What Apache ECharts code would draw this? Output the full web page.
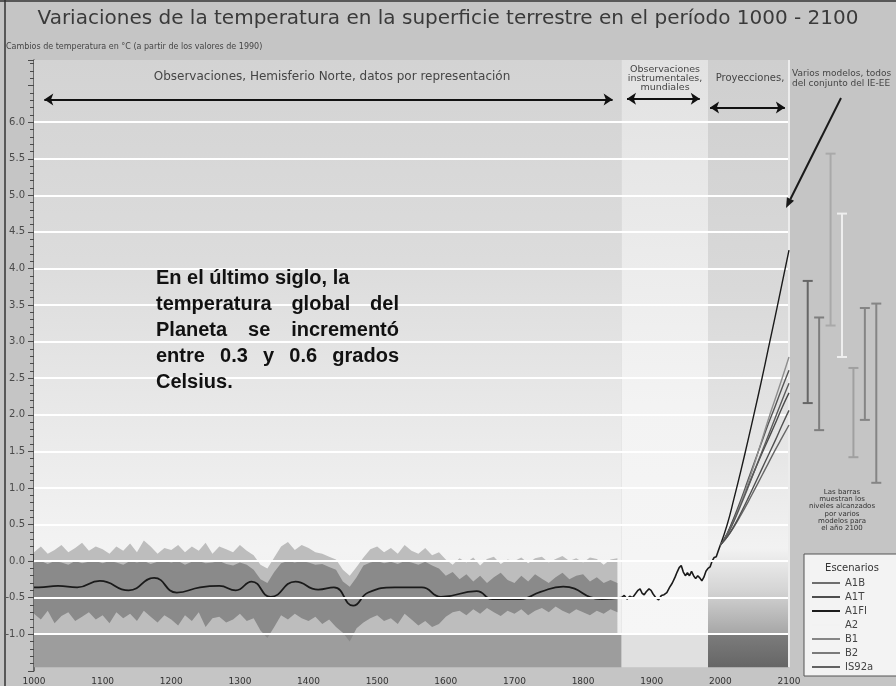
<!DOCTYPE html>
<html>
<head>
<meta charset="utf-8">
<script src="https://cdn.jsdelivr.net/npm/echarts@6/dist/echarts.min.js"></script>
<style>
html,body{margin:0;padding:0;background:#c5c5c5;}
#chart{width:896px;height:686px;}
</style>
</head>
<body>
<div id="chart"></div>
<script>
// ---------- datos ----------
const yearTicks = [1000,1100,1200,1300,1400,1500,1600,1700,1800,1900,2000,2100];
const levelTicks = [-1.0,-0.5,0.0,0.5,1.0,1.5,2.0,2.5,3.0,3.5,4.0,4.5,5.0,5.5,6.0];

// Reconstrucción hemisferio norte (décadas 1000-1850)
const proxyDecades = [
  1000,1010,1020,1030,1040,1050,1060,1070,1080,1090,
  1100,1110,1120,1130,1140,1150,1160,1170,1180,1190,
  1200,1210,1220,1230,1240,1250,1260,1270,1280,1290,
  1300,1310,1320,1330,1340,1350,1360,1370,1380,1390,
  1400,1410,1420,1430,1440,1450,1460,1470,1480,1490,
  1500,1510,1520,1530,1540,1550,1560,1570,1580,1590,
  1600,1610,1620,1630,1640,1650,1660,1670,1680,1690,
  1700,1710,1720,1730,1740,1750,1760,1770,1780,1790,
  1800,1810,1820,1830,1840,1850];
const outerTop = [
  0.12,0.20,0.10,0.15,0.22,0.12,0.18,0.25,0.14,0.20,
  0.16,0.10,0.20,0.14,0.24,0.12,0.28,0.20,0.10,0.18,
  0.15,0.22,0.12,0.20,0.14,0.25,0.10,0.20,0.16,0.12,
  0.22,0.14,0.08,-0.05,-0.10,0.05,0.20,0.26,0.15,0.22,
  0.18,0.12,0.10,0.06,0.02,-0.12,-0.20,-0.08,0.05,0.16,
  0.20,0.12,0.18,0.10,0.22,0.14,0.10,0.18,0.08,0.12,
  0.02,-0.05,0.04,-0.02,0.05,-0.06,0.03,0.06,-0.04,0.02,
  0.00,0.05,-0.03,0.04,0.06,-0.02,0.03,0.07,0.00,0.04,
  -0.02,0.05,0.03,-0.05,0.02,0.04];
const outerFloor = -1.0;
const innerTop = [
  -0.02,0.00,-0.04,0.00,-0.02,-0.05,0.00,-0.03,-0.01,0.00,
  -0.03,0.00,-0.02,-0.05,0.00,-0.02,0.00,-0.04,-0.01,0.00,
  -0.02,0.00,-0.05,-0.01,0.00,-0.03,-0.02,0.00,-0.04,-0.06,
  -0.02,-0.05,-0.12,-0.25,-0.30,-0.15,-0.03,0.00,-0.02,0.00,
  -0.02,-0.05,-0.04,-0.08,-0.12,-0.28,-0.35,-0.22,-0.06,-0.02,
  0.00,-0.03,-0.01,-0.04,0.00,-0.02,-0.05,-0.01,-0.06,-0.10,
  -0.20,-0.15,-0.25,-0.18,-0.28,-0.20,-0.30,-0.22,-0.16,-0.26,
  -0.30,-0.20,-0.28,-0.18,-0.24,-0.30,-0.22,-0.16,-0.25,-0.20,
  -0.18,-0.28,-0.22,-0.30,-0.26,-0.30];
const innerBottom = [
  -0.72,-0.80,-0.68,-0.85,-0.75,-0.70,-0.82,-0.76,-0.70,-0.80,
  -0.74,-0.85,-0.70,-0.78,-0.72,-0.82,-0.68,-0.76,-0.84,-0.74,
  -0.80,-0.88,-0.74,-0.82,-0.70,-0.90,-0.78,-0.76,-0.84,-0.80,
  -0.72,-0.82,-0.78,-0.95,-1.05,-0.90,-0.74,-0.80,-0.72,-0.78,
  -0.82,-0.76,-0.86,-0.80,-0.90,-0.98,-1.10,-0.92,-0.84,-0.78,
  -0.74,-0.82,-0.78,-0.86,-0.72,-0.80,-0.88,-0.82,-0.90,-0.86,
  -0.76,-0.70,-0.68,-0.74,-0.66,-0.72,-0.64,-0.70,-0.75,-0.68,
  -0.72,-0.66,-0.74,-0.68,-0.64,-0.70,-0.62,-0.68,-0.72,-0.66,
  -0.70,-0.74,-0.68,-0.72,-0.66,-0.70];

// Media suavizada de la reconstrucción
const proxyMeanYears = [1000,1007,1035,1063,1096,1138,1175,1208,1242,1270,1294,1317,1345,1381,1414,1437,1465,1487,1526,1565,1593,1645,1668,1709,1738,1771,1827,1856];
const proxyMeanVals  = [-0.36,-0.36,-0.34,-0.36,-0.27,-0.40,-0.23,-0.43,-0.36,-0.34,-0.40,-0.28,-0.49,-0.28,-0.39,-0.36,-0.61,-0.43,-0.36,-0.36,-0.49,-0.41,-0.52,-0.52,-0.42,-0.35,-0.52,-0.50];

// Observaciones instrumentales mundiales
const obsYears = [1856,1860,1864,1868,1872,1876,1880,1883,1886,1889,1892,1896,1899,1902,1906,1910,1914,1918,1922,1926,1930,1934,1937,1940,1943,1946,1949,1952,1955,1958,1961,1964,1967,1970,1973,1976,1979,1982,1985,1988,1991,1994,1997,2000];
const obsVals  = [-0.50,-0.47,-0.52,-0.48,-0.50,-0.45,-0.40,-0.38,-0.44,-0.46,-0.42,-0.38,-0.40,-0.45,-0.50,-0.53,-0.47,-0.46,-0.43,-0.36,-0.30,-0.22,-0.15,-0.09,-0.06,-0.15,-0.20,-0.16,-0.20,-0.14,-0.20,-0.24,-0.20,-0.23,-0.27,-0.22,-0.14,-0.10,-0.08,0.00,0.05,0.06,0.14,0.22];

// Proyecciones por escenario
const projYears = [2000,2010,2020,2030,2040,2050,2060,2070,2080,2090,2100];
const projA1B  = [0.22,0.38,0.60,0.84,1.10,1.36,1.62,1.88,2.12,2.37,2.61];
const projA1T  = [0.22,0.37,0.58,0.80,1.02,1.24,1.46,1.67,1.88,2.10,2.30];
const projA1FI = [0.22,0.50,0.86,1.24,1.64,2.05,2.47,2.91,3.35,3.80,4.25];
const projA2   = [0.22,0.36,0.56,0.80,1.06,1.34,1.64,1.94,2.22,2.50,2.79];
const projB1   = [0.22,0.33,0.47,0.63,0.80,0.98,1.16,1.34,1.52,1.69,1.86];
const projB2   = [0.22,0.36,0.55,0.77,1.00,1.24,1.48,1.72,1.96,2.20,2.43];
const projIS92a= [0.22,0.33,0.48,0.66,0.85,1.05,1.25,1.45,1.65,1.86,2.06];

const scenarioNames = ['A1B','A1T','A1FI','A2','B1','B2','IS92a'];
const scenarioSeries = [projA1B,projA1T,projA1FI,projA2,projB1,projB2,projIS92a];

// Rango alcanzado en 2100 por varios modelos
const rangeLow  = [2.16,1.79,3.22,2.79,1.42,1.93,1.07];
const rangeHigh = [3.83,3.33,5.57,4.75,2.64,3.46,3.52];

// Periodos del eje temporal
const periodProxy = [1000,1856];
const periodInstr = [1856,1982];
const periodProj  = [1982,2100];
const plotBottom = -1.45, plotTop = 6.85;

// Encabezados con flechas [inicio, fin, nivel]
const headerSpans = [[1015,1843,6.31],[1864,1970,6.32],[1985,2094,6.20]];

// ---------- estilos ----------
const legendColors = ['#6e6e6e','#4e4e4e','#1c1c1c','#f2f2f2','#858585','#7a7a7a','#626262'];
const lineColors   = ['#555555','#4a4a4a','#1a1a1a','#8e8e8e','#666666','#5a5a5a','#505050'];
const barColors    = ['#666666','#7e7e7e','#a9a9a9','#eeeeee','#a0a0a0','#858585','#858585'];
const FONT = 'DejaVu Sans';

const chart = echarts.init(document.getElementById('chart'));

function grad(stops){
  return {type:'linear',x:0,y:0,x2:0,y2:1,colorStops:stops.map(s=>({offset:s[0],color:s[1]}))};
}

function bandSeries(name, top, bottomAt, color, z){
  return {
    type:'custom', name, z, silent:true, xAxisIndex:0, yAxisIndex:0,
    data: proxyDecades.map((y,i)=>[y, bottomAt(i), top[i]]),
    encode:{x:0, y:[1,2]},
    renderItem(params, api){
      if (params.dataIndex !== 0) return null;
      const pts = [];
      for (let i=0;i<proxyDecades.length;i++) pts.push(api.coord([proxyDecades[i], top[i]]));
      for (let i=proxyDecades.length-1;i>=0;i--) pts.push(api.coord([proxyDecades[i], bottomAt(i)]));
      return {type:'polygon', shape:{points:pts, smooth:0}, style:{fill:color}};
    }
  };
}

const series = [];

// Fondos de los tres periodos
series.push({
  type:'line', name:'fondo', data:[], z:1, silent:true,
  markArea:{
    silent:true,
    data:[
      [{xAxis:periodProxy[0], yAxis:outerFloor, itemStyle:{color:grad([[0,'#d3d3d3'],[0.35,'#dcdcdc'],[0.6,'#e8e8e8'],[0.85,'#f3f3f3'],[1,'#f0f0f0']])}},{xAxis:periodProxy[1], yAxis:plotTop}],
      [{xAxis:periodProxy[0], yAxis:plotBottom, itemStyle:{color:'#9d9d9d'}},{xAxis:periodProxy[1], yAxis:outerFloor}],
      [{xAxis:periodInstr[0], yAxis:outerFloor, itemStyle:{color:grad([[0,'#e2e2e2'],[0.3,'#eaeaea'],[0.6,'#f3f3f3'],[1,'#f6f6f6']])}},{xAxis:periodInstr[1], yAxis:plotTop}],
      [{xAxis:periodInstr[0], yAxis:plotBottom, itemStyle:{color:'#e0e0e0'}},{xAxis:periodInstr[1], yAxis:outerFloor}],
      [{xAxis:periodProj[0], yAxis:outerFloor, itemStyle:{color:grad([[0,'#cfcfcf'],[0.4,'#d9d9d9'],[0.7,'#e7e7e7'],[0.85,'#f2f2f2'],[0.92,'#d6d6d6'],[1,'#a6a6a6']])}},{xAxis:periodProj[1], yAxis:plotTop}],
      [{xAxis:periodProj[0], yAxis:plotBottom, itemStyle:{color:grad([[0,'#7c7c7c'],[1,'#666666']])}},{xAxis:periodProj[1], yAxis:outerFloor}]
    ]
  }
});

// Bandas de incertidumbre
series.push(bandSeries('banda externa', outerTop, ()=>outerFloor, '#bdbdbd', 2));
series.push(bandSeries('banda interna', innerTop, i=>innerBottom[i], '#8a8a8a', 2));

// Líneas de nivel blancas
series.push({
  type:'line', name:'niveles', data:[], z:3, silent:true,
  markLine:{
    silent:true, symbol:'none', label:{show:false},
    lineStyle:{color:'#ffffff', width:2, type:'solid'},
    data: levelTicks.map(v=>({yAxis:v}))
  }
});
series.push({
  type:'line', name:'borde', data:[], z:3, silent:true,
  markLine:{
    silent:true, symbol:'none', label:{show:false},
    lineStyle:{color:'#ececec', width:2, type:'solid'},
    data:[[{coord:[periodProj[1], plotBottom]},{coord:[periodProj[1], plotTop]}]]
  }
});

// Media de la reconstrucción
series.push({
  type:'line', name:'media', z:4, silent:true, smooth:0.5, symbol:'none',
  data: proxyMeanYears.map((y,i)=>[y, proxyMeanVals[i]]),
  lineStyle:{color:'#1a1a1a', width:1.8}
});
// Observaciones instrumentales
series.push({
  type:'line', name:'observaciones', z:4, silent:true, symbol:'none',
  data: obsYears.map((y,i)=>[y, obsVals[i]]),
  lineStyle:{color:'#1a1a1a', width:1.6}
});

// Escenarios
scenarioNames.forEach((n,k)=>{
  series.push({
    type:'line', name:n, z:5, silent:true, smooth:true, symbol:'none',
    data: projYears.map((y,i)=>[y, scenarioSeries[k][i]]),
    itemStyle:{color:legendColors[k]},
    lineStyle:{color:lineColors[k], width:1.4}
  });
});

// Flechas de encabezado
series.push({
  type:'line', name:'flechas', data:[], z:6, silent:true,
  markLine:{
    silent:true, symbol:['arrow','arrow'], symbolSize:9, label:{show:false},
    lineStyle:{color:'#111111', width:2, type:'solid'},
    data: headerSpans.map(s=>[{coord:[s[0], s[2]]},{coord:[s[1], s[2]]}])
  }
});

// Barras de rango en 2100
series.push({
  type:'custom', name:'rangos', xAxisIndex:1, yAxisIndex:1, z:5, silent:true,
  data: scenarioNames.map((n,i)=>[i, rangeLow[i], rangeHigh[i]]),
  encode:{x:0, y:[1,2]},
  renderItem(params, api){
    const x = api.value(0);
    const p1 = api.coord([x, api.value(2)]);
    const p2 = api.coord([x, api.value(1)]);
    const c = barColors[params.dataIndex];
    const st = {stroke:c, lineWidth:2};
    return {type:'group', children:[
      {type:'line', shape:{x1:p1[0], y1:p1[1], x2:p2[0], y2:p2[1]}, style:st},
      {type:'line', shape:{x1:p1[0]-5, y1:p1[1], x2:p1[0]+5, y2:p1[1]}, style:st},
      {type:'line', shape:{x1:p2[0]-5, y1:p2[1], x2:p2[0]+5, y2:p2[1]}, style:st}
    ]};
  }
});

// ---------- textos ----------
const graphics = [];
graphics.push({type:'line', shape:{x1:5,y1:0,x2:5,y2:686}, style:{stroke:'#333', lineWidth:1.5}, z:20});
graphics.push({type:'line', shape:{x1:0,y1:1,x2:896,y2:1}, style:{stroke:'#333', lineWidth:1.5}, z:20});
graphics.push({type:'text', x:448, y:19, style:{text:'Variaciones de la temperatura en la superficie terrestre en el período 1000 - 2100', font:'20px "DejaVu Sans"', fill:'#3a3a3a', textAlign:'center', textVerticalAlign:'middle'}, z:20});
graphics.push({type:'text', x:6, y:47, style:{text:'Cambios de temperatura en °C (a partir de los valores de 1990)', font:'8px "DejaVu Sans"', fill:'#454545', textAlign:'left', textVerticalAlign:'middle'}, z:20});
graphics.push({type:'text', x:332, y:77, style:{text:'Observaciones, Hemisferio Norte, datos por representación', font:'12px "DejaVu Sans"', fill:'#454545', textAlign:'center', textVerticalAlign:'middle', letterSpacing:0.5}, z:20});
['Observaciones','instrumentales,','mundiales'].forEach((t,i)=>{
  graphics.push({type:'text', x:665, y:70+9*i, style:{text:t, font:'9.5px "DejaVu Sans"', fill:'#454545', textAlign:'center', textVerticalAlign:'middle'}, z:20});
});
graphics.push({type:'text', x:750, y:78, style:{text:'Proyecciones,', font:'10px "DejaVu Sans"', fill:'#454545', textAlign:'center', textVerticalAlign:'middle'}, z:20});
['Varios modelos, todos','del conjunto del IE-EE'].forEach((t,i)=>{
  graphics.push({type:'text', x:792, y:74+10*i, style:{text:t, font:'9px "DejaVu Sans"', fill:'#454545', textAlign:'left', textVerticalAlign:'middle'}, z:20});
});
// Flecha indicadora hacia las proyecciones
(function(){
  const a=[841,98], b=[786,208];
  const dx=b[0]-a[0], dy=b[1]-a[1], L=Math.hypot(dx,dy), ux=dx/L, uy=dy/L;
  const base=[b[0]-ux*10, b[1]-uy*10];
  graphics.push({type:'line', shape:{x1:a[0],y1:a[1],x2:base[0],y2:base[1]}, style:{stroke:'#1a1a1a', lineWidth:2}, z:20});
  graphics.push({type:'polygon', shape:{points:[b,[base[0]-uy*4, base[1]+ux*4],[base[0]+uy*4, base[1]-ux*4]]}, style:{fill:'#1a1a1a'}, z:20});
})();
['Las barras','muestran los','niveles alcanzados','por varios','modelos para','el año 2100'].forEach((t,i)=>{
  graphics.push({type:'text', x:842, y:492+7.3*i, style:{text:t, font:'7px "DejaVu Sans"', fill:'#333', textAlign:'center', textVerticalAlign:'middle'}, z:20});
});
graphics.push({type:'text', x:852, y:568, style:{text:'Escenarios', font:'10px "DejaVu Sans"', fill:'#333', textAlign:'center', textVerticalAlign:'middle'}, z:30});

// Texto destacado, justificado
(function(){
  const lines = ['En el último siglo, la','temperatura global del','Planeta se incrementó','entre 0.3 y 0.6 grados','Celsius.'];
  const justify = [false,true,true,true,false];
  const font = 'bold 20px Arial';
  const left = 156, width = 243;
  const ctx = document.createElement('canvas').getContext('2d');
  ctx.font = font;
  const sp = ctx.measureText(' ').width;
  lines.forEach((ln,i)=>{
    const y = 278 + 26*i;
    const words = ln.split(' ');
    const ws = words.map(w=>ctx.measureText(w).width);
    const total = ws.reduce((a,b)=>a+b,0);
    const gap = justify[i] && words.length>1 ? (width-total)/(words.length-1) : sp;
    let x = left;
    words.forEach((w,k)=>{
      graphics.push({type:'text', x, y, style:{text:w, font, fill:'#111', textAlign:'left', textVerticalAlign:'middle'}, z:25});
      x += ws[k] + gap;
    });
  });
})();

chart.setOption({
  backgroundColor:'#c5c5c5',
  animation:false,
  grid:[
    {left:34, right:107, top:60, bottom:15.2},
    {left:802, right:14, top:60, bottom:15.2}
  ],
  xAxis:[
    {type:'value', gridIndex:0, min:yearTicks[0], max:yearTicks[yearTicks.length-1], interval:100,
     axisLine:{show:false}, splitLine:{show:false},
     axisTick:{show:true, inside:true, length:7, lineStyle:{color:'#333', width:1.5}},
     axisLabel:{color:'#333', fontSize:9, fontFamily:FONT, margin:6, showMinLabel:true, showMaxLabel:true,
       formatter:v=>String(v)}},
    {type:'category', gridIndex:1, data:scenarioNames, show:false}
  ],
  yAxis:[
    {type:'value', gridIndex:0, min:-1.5, max:plotTop, interval:0.5,
     axisLine:{show:true, lineStyle:{color:'#4a4a4a', width:1.5}},
     axisTick:{show:true, length:6, lineStyle:{color:'#4a4a4a'}},
     minorTick:{show:true, splitNumber:5, length:4, lineStyle:{color:'#4a4a4a'}},
     splitLine:{show:false},
     axisLabel:{color:'#4a4a4a', fontSize:10, fontFamily:FONT, margin:9,
       formatter:v=> (v>6.001 || v< -1.001) ? '' : v.toFixed(1)}},
    {type:'value', gridIndex:1, min:-1.5, max:plotTop, show:false}
  ],
  legend:{
    data:scenarioNames, orient:'vertical', left:804, top:554,
    padding:[24,40,4,8], itemGap:4, itemWidth:28, itemHeight:2, icon:'rect',
    backgroundColor:'#f3f3f3', borderColor:'#555', borderWidth:1, borderRadius:0,
    selectedMode:false,
    textStyle:{fontSize:10, color:'#444', fontFamily:FONT}
  },
  series,
  graphic:graphics
});
</script>
</body>
</html>
